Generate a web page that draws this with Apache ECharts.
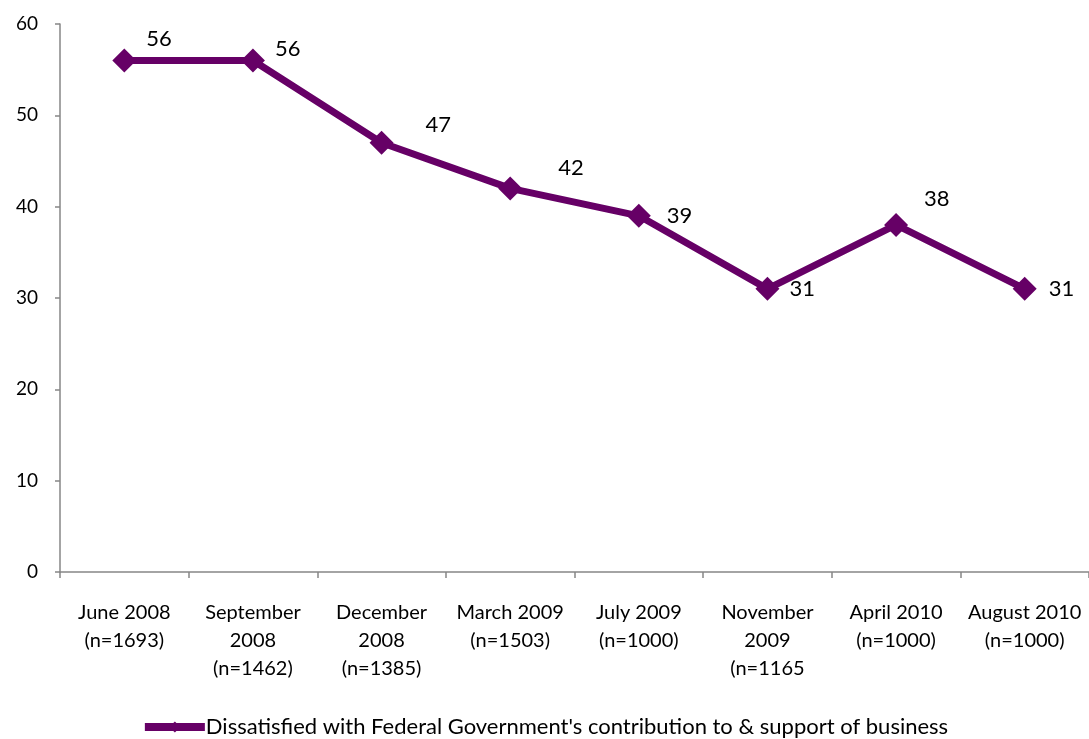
<!DOCTYPE html>
<html>
<head>
<meta charset="utf-8">
<script src="https://cdn.jsdelivr.net/npm/echarts@6/dist/echarts.min.js"></script>
<style>
  html, body { margin: 0; padding: 0; background: #fff; }
  #chart { width: 1089px; height: 739px; }
</style>
</head>
<body>
<div id="chart"></div>
<script>
// categories / values
var categories = [
  'June 2008\n(n=1693)',
  'September\n2008\n(n=1462)',
  'December\n2008\n(n=1385)',
  'March 2009\n(n=1503)',
  'July 2009\n(n=1000)',
  'November\n2009\n(n=1165',
  'April 2010\n(n=1000)',
  'August 2010\n(n=1000)'
]
var dissatisfied = [56, 56, 47, 42, 39, 31, 38, 31]
var seriesName = "Dissatisfied with Federal Government's contribution to & support of business"

// label nudges so the numbers sit like the original
var labelOffsets = [[0, -22], [0, -12], [22, -18], [26, -20], [6, 0], [0, 0], [6, -26], [2, 0]]

var FONT = 'Lato, "Open Sans", sans-serif'
var PURPLE = '#660066'

var chart = echarts.init(document.getElementById('chart'))
chart.setOption({
  animation: false,
  textStyle: { fontFamily: FONT },
  grid: {
    left: 60,
    right: 0,
    top: 24,
    bottom: 167
  },
  legend: {
    bottom: -4,
    left: 'center',
    itemWidth: 60,
    itemHeight: 14,
    itemGap: 0,
    lineStyle: { width: 8 },
    textStyle: { fontSize: 22, color: '#000', fontFamily: FONT, padding: [0, 0, 0, -4] },
    data: [seriesName]
  },
  xAxis: {
    type: 'category',
    data: categories,
    boundaryGap: true,
    axisLine: { lineStyle: { color: '#868686', width: 1.5 } },
    axisTick: { show: true, length: 6, alignWithLabel: false, lineStyle: { color: '#868686', width: 1.5 } },
    axisLabel: {
      interval: 0,
      margin: 27,
      fontSize: 20,
      lineHeight: 28,
      color: '#000',
      fontFamily: FONT
    }
  },
  yAxis: {
    type: 'value',
    min: 0,
    max: 60,
    interval: 10,
    splitLine: { show: false },
    axisLine: { show: true, lineStyle: { color: '#868686', width: 1.5 } },
    axisTick: { show: true, length: 5, lineStyle: { color: '#868686', width: 1.5 } },
    axisLabel: { fontSize: 19, color: '#000', margin: 22, fontFamily: FONT }
  },
  series: [{
    name: seriesName,
    type: 'line',
    data: dissatisfied.map(function (v, i) {
      return { value: v, label: { offset: labelOffsets[i] } }
    }),
    symbol: 'diamond',
    symbolSize: 24,
    itemStyle: { color: PURPLE },
    lineStyle: { color: PURPLE, width: 7 },
    label: {
      show: true,
      position: 'right',
      distance: 10,
      fontSize: 22,
      color: '#000',
      fontFamily: FONT
    }
  }]
})
</script>
</body>
</html>
